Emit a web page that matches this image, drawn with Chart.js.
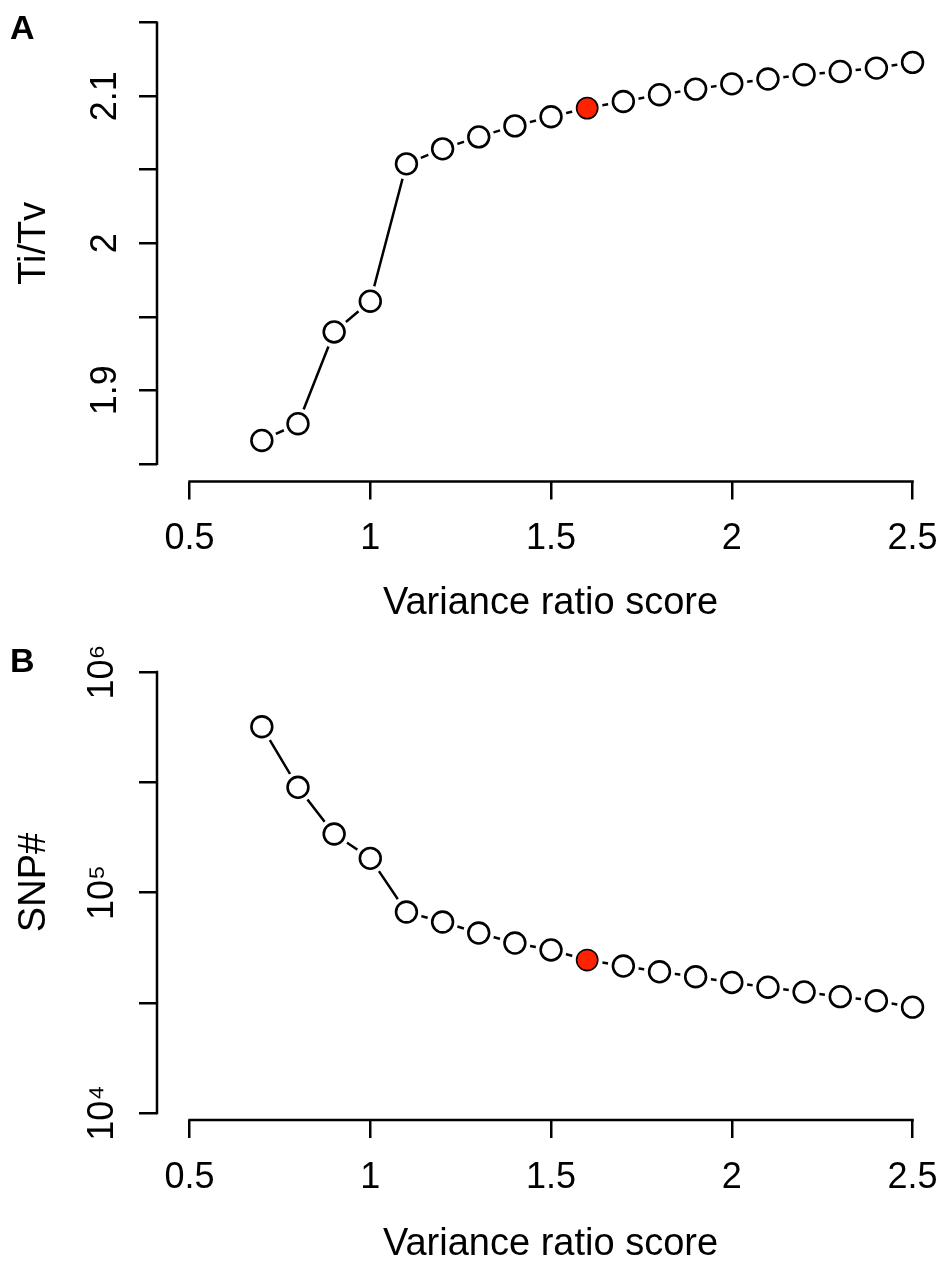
<!DOCTYPE html>
<html><head><meta charset="utf-8">
<script src="https://cdn.jsdelivr.net/npm/chart.js@4/dist/chart.umd.min.js"></script>
<style>
html,body{margin:0;padding:0;background:#fff;}
#wrap{position:relative;width:944px;height:1270px;overflow:hidden;background:#fff;}
.panel{position:absolute;left:0;width:944px;}
#pA{top:0;height:640px;}
#pB{top:640px;height:630px;}
.lab{position:absolute;left:10px;font:bold 34px "Liberation Sans",Arial,sans-serif;line-height:34px;color:#000;}
</style></head><body>
<div id="wrap">
<div class="panel" id="pA"><canvas id="cA" width="944" height="640"></canvas></div>
<div class="panel" id="pB"><canvas id="cB" width="944" height="630"></canvas></div>
<div class="lab" style="top:10px">A</div>
<div class="lab" style="top:643px">B</div>
</div>
<script>
// ---- data ----
const xValues = [0.7, 0.8, 0.9, 1.0, 1.1, 1.2, 1.3, 1.4, 1.5, 1.6, 1.7, 1.8, 1.9, 2.0, 2.1, 2.2, 2.3, 2.4, 2.5];
const titvValues = [1.8659, 1.8773, 1.9397, 1.9606, 2.0540, 2.0642, 2.0723, 2.0798, 2.0860, 2.0919, 2.0964, 2.1010, 2.1048, 2.1084, 2.1117, 2.1146, 2.1168, 2.1191, 2.1230];
const snpValues = [564800, 300000, 184200, 142900, 81600, 73500, 65500, 59000, 54900, 49400, 46400, 43700, 41500, 39100, 37200, 35400, 33700, 32300, 30200];
const highlightX = 1.6;
const xTickValues = [0.5, 1, 1.5, 2, 2.5];
const xTickLabels = ['0.5', '1', '1.5', '2', '2.5'];
const titvTickValues = [1.85, 1.9, 1.95, 2.0, 2.05, 2.1, 2.15];
const titvTickLabels = ['', '1.9', '', '2', '', '2.1', ''];
const snpTickValues = [10000, 31623, 100000, 316228, 1000000];
const snpTickLabels = ['10\u2074', '', '10\u2075', '', '10\u2076'];
const xTitle = 'Variance ratio score';
const titvTitle = 'Ti/Tv';
const snpTitle = 'SNP#';

// ---- styling ----
const FAM = '"Liberation Sans", Arial, Helvetica, sans-serif';
const TICK_FONT = {family: FAM, size: 36};
const TITLE_FONT = {family: FAM, size: 38};

const rAxes = {
  id: 'rAxes',
  afterDraw(chart) {
    const {ctx, chartArea, scales} = chart;
    const x = scales.x, y = scales.y;
    ctx.save();
    ctx.strokeStyle = '#000';
    ctx.lineWidth = 2.5;
    ctx.lineCap = 'square';
    const x0 = x.getPixelForValue(x.ticks[0].value), x1 = x.getPixelForValue(x.ticks[x.ticks.length - 1].value);
    ctx.beginPath(); ctx.moveTo(x0, chartArea.bottom); ctx.lineTo(x1, chartArea.bottom); ctx.stroke();
    const y0 = y.getPixelForValue(y.ticks[0].value), y1 = y.getPixelForValue(y.ticks[y.ticks.length - 1].value);
    ctx.beginPath(); ctx.moveTo(chartArea.left, y0); ctx.lineTo(chartArea.left, y1); ctx.stroke();
    ctx.restore();
  }
};

function noPad(s) { s.paddingLeft = 0; s.paddingRight = 0; s.paddingTop = 0; s.paddingBottom = 0; }

function makeDatasets(yVals) {
  const pts = xValues.map((x, i) => ({x: x, y: yVals[i]}));
  const hi = xValues.map(x => Math.abs(x - highlightX) < 1e-9);
  return [
    {data: pts, showLine: false, order: 0, clip: false,
     pointRadius: hi.map(h => h ? 10.6 : 10.4),
     pointBorderWidth: hi.map(h => h ? 1.6 : 2.6),
     pointBackgroundColor: hi.map(h => h ? '#ff2200' : '#ffffff'),
     pointBorderColor: '#000'},
    {data: pts, showLine: true, order: 1, clip: false, tension: 0,
     borderColor: '#000', borderWidth: 2.5,
     pointRadius: 15.5, pointBorderWidth: 0,
     pointBackgroundColor: '#ffffff', pointBorderColor: '#ffffff'}
  ];
}

function makeChart(id, yVals, yScale, xAxisHeight, xTitlePad) {
  return new Chart(document.getElementById(id), {
    type: 'scatter',
    data: {datasets: makeDatasets(yVals)},
    options: {
      responsive: false, animation: false, devicePixelRatio: 1, events: [],
      layout: {autoPadding: false, padding: {top: 5, left: 0, right: 0, bottom: 0}},
      plugins: {legend: {display: false}, tooltip: {enabled: false}},
      scales: {
        x: {
          type: 'linear', position: 'bottom', min: 0.41, max: 2.587,
          afterBuildTicks: s => { s.ticks = xTickValues.map(v => ({value: v})); },
          afterFit: s => { s.height = xAxisHeight; noPad(s); },
          grid: {drawOnChartArea: false, drawTicks: true, tickLength: 18, lineWidth: 2.5, color: '#000'},
          border: {display: false},
          ticks: {autoSkip: false, minRotation: 0, maxRotation: 0, padding: 18, color: '#000', font: TICK_FONT,
                  callback: (v, i) => xTickLabels[i]},
          title: {display: true, text: xTitle, color: '#000', font: TITLE_FONT, padding: {top: 0, bottom: xTitlePad}}
        },
        y: yScale
      }
    },
    plugins: [rAxes]
  });
}

function yAxis(type, min, max, tickVals, tickLabels, title) {
  return {
    type: type, position: 'left', min: min, max: max,
    afterBuildTicks: s => { s.ticks = tickVals.map(v => ({value: v})); },
    afterFit: s => { s.width = 157; noPad(s); },
    grid: {drawOnChartArea: false, drawTicks: true, tickLength: 18, lineWidth: 2.5, color: '#000'},
    border: {display: false},
    ticks: {autoSkip: false, minRotation: 90, maxRotation: 90, crossAlign: 'center', padding: 8, color: '#000', font: TICK_FONT,
            callback: (v, i) => tickLabels[i]},
    title: {display: true, text: title, color: '#000', font: TITLE_FONT, padding: {top: 12, bottom: 0}}
  };
}

makeChart('cA', titvValues, yAxis('linear', 1.838, 2.162, titvTickValues, titvTickLabels, titvTitle), 158.5, 14);
makeChart('cB', snpValues, yAxis('logarithmic', 9296, 1326000, snpTickValues, snpTickLabels, snpTitle), 150, 3);
</script>
</body></html>
